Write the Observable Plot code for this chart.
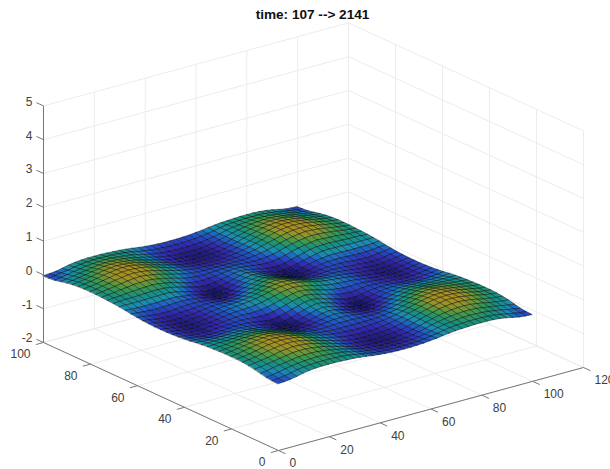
<!DOCTYPE html>
<html><head><meta charset="utf-8">
<script src="https://cdn.jsdelivr.net/npm/d3@7"></script>
<script src="https://cdn.jsdelivr.net/npm/@observablehq/plot@0.6"></script>
<style>html,body{margin:0;padding:0;background:#fff}svg{display:block}</style>
</head><body><div id="c"></div>
<script>
const titleText = "time: 107 --> 2141";
const xTicks = [0,20,40,60,80,100,120];
const yTicks = [0,20,40,60,80,100];
const zTicks = [-2,-1,0,1,2,3,4,5];
const gridStep = 2.5;
// surface height, hundredths, rows y=0.., columns x=0..
const heights = [
[-4,-3,-1,3,7,10,12,13,13,13,12,11,10,8,6,3,1,-1,-2,-3,-3,-3,-2,-1,1,3,6,8,10,11,12,13,13,13,12,10,7,3,-1,-3,-4],
[-3,-1,2,5,9,12,14,15,15,15,14,13,11,8,4,1,-2,-4,-5,-6,-6,-6,-5,-4,-2,1,4,8,11,13,14,15,15,15,14,12,9,5,2,-1,-3],
[-1,2,5,9,12,15,17,18,19,18,16,14,12,8,3,-1,-4,-7,-8,-9,-9,-9,-8,-7,-4,-1,3,8,12,14,16,18,19,18,17,15,12,9,5,2,-1],
[3,5,9,12,15,18,21,22,22,21,19,16,12,8,3,-2,-6,-9,-11,-12,-12,-12,-11,-9,-6,-2,3,8,12,16,19,21,22,22,21,18,15,12,9,5,3],
[7,9,12,15,19,22,25,26,26,24,21,18,13,8,3,-3,-7,-10,-12,-13,-14,-13,-12,-10,-7,-3,3,8,13,18,21,24,26,26,25,22,19,15,12,9,7],
[10,12,15,18,22,26,28,30,29,27,24,19,14,9,3,-2,-7,-10,-12,-13,-14,-13,-12,-10,-7,-2,3,9,14,19,24,27,29,30,28,26,22,18,15,12,10],
[12,14,17,21,25,28,31,32,32,29,25,20,15,9,4,-1,-6,-9,-11,-12,-12,-12,-11,-9,-6,-1,4,9,15,20,25,29,32,32,31,28,25,21,17,14,12],
[13,15,18,22,26,30,32,33,32,30,26,21,15,10,4,0,-4,-7,-9,-10,-10,-10,-9,-7,-4,0,4,10,15,21,26,30,32,33,32,30,26,22,18,15,13],
[13,15,19,22,26,29,32,32,31,28,24,19,14,9,4,0,-3,-5,-6,-7,-7,-7,-6,-5,-3,0,4,9,14,19,24,28,31,32,32,29,26,22,19,15,13],
[13,15,18,21,24,27,29,30,28,25,21,16,11,6,2,-1,-3,-4,-4,-4,-4,-4,-4,-4,-3,-1,2,6,11,16,21,25,28,30,29,27,24,21,18,15,13],
[12,14,16,19,21,24,25,26,24,21,17,12,7,2,-1,-3,-4,-3,-2,-1,-1,-1,-2,-3,-4,-3,-1,2,7,12,17,21,24,26,25,24,21,19,16,14,12],
[11,13,14,16,18,19,20,21,19,16,12,7,2,-3,-6,-7,-6,-4,-1,1,2,1,-1,-4,-6,-7,-6,-3,2,7,12,16,19,21,20,19,18,16,14,13,11],
[10,11,12,12,13,14,15,15,14,11,7,2,-3,-8,-11,-11,-9,-6,-2,2,4,2,-2,-6,-9,-11,-11,-8,-3,2,7,11,14,15,15,14,13,12,12,11,10],
[8,8,8,8,8,9,9,10,9,6,2,-3,-8,-12,-15,-15,-12,-7,-2,3,6,3,-2,-7,-12,-15,-15,-12,-8,-3,2,6,9,10,9,9,8,8,8,8,8],
[6,4,3,3,3,3,4,4,4,1,-1,-6,-11,-15,-17,-16,-12,-6,0,5,8,5,0,-6,-12,-16,-17,-15,-11,-6,-1,1,4,4,4,3,3,3,3,4,6],
[3,1,-1,-2,-3,-2,-1,0,0,-1,-3,-7,-11,-15,-16,-14,-9,-3,3,8,11,8,3,-3,-9,-14,-16,-15,-11,-7,-3,-1,0,0,-1,-2,-3,-2,-1,1,3],
[1,-2,-4,-7,-7,-7,-6,-4,-3,-3,-4,-6,-9,-12,-12,-9,-4,2,7,12,15,12,7,2,-4,-9,-12,-12,-9,-6,-4,-3,-3,-4,-6,-7,-7,-7,-4,-2,1],
[-1,-4,-7,-9,-10,-10,-7,-7,-5,-4,-3,-4,-6,-7,-6,-3,2,7,12,17,20,17,12,7,2,-3,-6,-7,-6,-4,-3,-4,-5,-7,-7,-10,-10,-9,-7,-4,-1],
[-2,-5,-8,-11,-12,-12,-9,-9,-6,-4,-2,-1,-2,-2,0,3,7,12,17,22,24,22,17,12,7,3,0,-2,-2,-1,-2,-4,-6,-9,-9,-12,-12,-11,-8,-5,-2],
[-3,-6,-9,-12,-13,-13,-10,-10,-7,-4,-1,1,2,3,5,8,12,17,22,25,27,25,22,17,12,8,5,3,2,1,-1,-4,-7,-10,-10,-13,-13,-12,-9,-6,-3],
[-3,-6,-9,-12,-14,-14,-12,-10,-7,-4,-1,2,4,6,8,11,15,20,24,27,28,27,24,20,15,11,8,6,4,2,-1,-4,-7,-10,-12,-14,-14,-12,-9,-6,-3],
[-3,-6,-9,-12,-13,-13,-10,-10,-7,-4,-1,1,2,3,5,8,12,17,22,25,27,25,22,17,12,8,5,3,2,1,-1,-4,-7,-10,-10,-13,-13,-12,-9,-6,-3],
[-2,-5,-8,-11,-12,-12,-9,-9,-6,-4,-2,-1,-2,-2,0,3,7,12,17,22,24,22,17,12,7,3,0,-2,-2,-1,-2,-4,-6,-9,-9,-12,-12,-11,-8,-5,-2],
[-1,-4,-7,-9,-10,-10,-7,-7,-5,-4,-3,-4,-6,-7,-6,-3,2,7,12,17,20,17,12,7,2,-3,-6,-7,-6,-4,-3,-4,-5,-7,-7,-10,-10,-9,-7,-4,-1],
[1,-2,-4,-7,-7,-7,-6,-4,-3,-3,-4,-6,-9,-12,-12,-9,-4,2,7,12,15,12,7,2,-4,-9,-12,-12,-9,-6,-4,-3,-3,-4,-6,-7,-7,-7,-4,-2,1],
[3,1,-1,-2,-3,-2,-1,0,0,-1,-3,-7,-11,-15,-16,-14,-9,-3,3,8,11,8,3,-3,-9,-14,-16,-15,-11,-7,-3,-1,0,0,-1,-2,-3,-2,-1,1,3],
[6,4,3,3,3,3,4,4,4,1,-1,-6,-11,-15,-17,-16,-12,-6,0,5,8,5,0,-6,-12,-16,-17,-15,-11,-6,-1,1,4,4,4,3,3,3,3,4,6],
[8,8,8,8,8,9,9,10,9,6,2,-3,-8,-12,-15,-15,-12,-7,-2,3,6,3,-2,-7,-12,-15,-15,-12,-8,-3,2,6,9,10,9,9,8,8,8,8,8],
[10,11,12,12,13,14,15,15,14,11,7,2,-3,-8,-11,-11,-9,-6,-2,2,4,2,-2,-6,-9,-11,-11,-8,-3,2,7,11,14,15,15,14,13,12,12,11,10],
[11,13,14,16,18,19,20,21,19,16,12,7,2,-3,-6,-7,-6,-4,-1,1,2,1,-1,-4,-6,-7,-6,-3,2,7,12,16,19,21,20,19,18,16,14,13,11],
[12,14,16,19,21,24,25,26,24,21,17,12,7,2,-1,-3,-4,-3,-2,-1,-1,-1,-2,-3,-4,-3,-1,2,7,12,17,21,24,26,25,24,21,19,16,14,12],
[13,15,18,21,24,27,29,30,28,25,21,16,11,6,2,-1,-3,-4,-4,-4,-4,-4,-4,-4,-3,-1,2,6,11,16,21,25,28,30,29,27,24,21,18,15,13],
[13,15,19,22,26,29,32,32,31,28,24,19,14,9,4,0,-3,-5,-6,-7,-7,-7,-6,-5,-3,0,4,9,14,19,24,28,31,32,32,29,26,22,19,15,13],
[13,15,18,22,26,30,32,33,32,30,26,21,15,10,4,0,-4,-7,-9,-10,-10,-10,-9,-7,-4,0,4,10,15,21,26,30,32,33,32,30,26,22,18,15,13],
[12,14,17,21,25,28,31,32,32,29,25,20,15,9,4,-1,-6,-9,-11,-12,-12,-12,-11,-9,-6,-1,4,9,15,20,25,29,32,32,31,28,25,21,17,14,12],
[10,12,15,18,22,26,28,30,29,27,24,19,14,9,3,-2,-7,-10,-12,-13,-14,-13,-12,-10,-7,-2,3,9,14,19,24,27,29,30,28,26,22,18,15,12,10],
[7,9,12,15,19,22,25,26,26,24,21,18,13,8,3,-3,-7,-10,-12,-13,-14,-13,-12,-10,-7,-3,3,8,13,18,21,24,26,26,25,22,19,15,12,9,7],
[3,5,9,12,15,18,21,22,22,21,19,16,12,8,3,-2,-6,-9,-11,-12,-12,-12,-11,-9,-6,-2,3,8,12,16,19,21,22,22,21,18,15,12,9,5,3],
[-1,2,5,9,12,15,17,18,19,18,16,14,12,8,3,-1,-4,-7,-8,-9,-9,-9,-8,-7,-4,-1,3,8,12,14,16,18,19,18,17,15,12,9,5,2,-1],
[-3,-1,2,5,9,12,14,15,15,15,14,13,11,8,4,1,-2,-4,-5,-6,-6,-6,-5,-4,-2,1,4,8,11,13,14,15,15,15,14,12,9,5,2,-1,-3],
[-4,-3,-1,3,7,10,12,13,13,13,12,11,10,8,6,3,1,-1,-2,-3,-3,-3,-2,-1,1,3,6,8,10,11,12,13,13,13,12,10,7,3,-1,-3,-4]
];
const surfaceColors = ["#1a1670","#3228b0","#1f55c8","#1a8fb0","#159080","#3f9a4a","#93942a","#b08f1c"];

// axonometric view of the MATLAB box
const view = {ox:278, oy:450, xx:305/120, xy:-83/120, yx:-235/100, yy:-108/100, zy:-33.8, z0:-2};
const px = (x,y) => view.ox + x*view.xx + y*view.yx;
const py = (x,y,z) => view.oy + x*view.xy + y*view.yy + (z-view.z0)*view.zy;
const P = (x,y,z) => ({X:px(x,y), Y:py(x,y,z)});
const seg = (a,b) => { const p=P(...a), q=P(...b); return {X1:p.X,Y1:p.Y,X2:q.X,Y2:q.Y}; };

const xMax=120,yMax=100,zMin=-2,zMax=5;
const grid=[];
for(const z of zTicks){grid.push(seg([0,yMax,z],[xMax,yMax,z]));grid.push(seg([xMax,yMax,z],[xMax,0,z]));}
for(const x of xTicks){grid.push(seg([x,yMax,zMin],[x,yMax,zMax]));grid.push(seg([x,0,zMin],[x,yMax,zMin]));}
for(const y of yTicks){grid.push(seg([xMax,y,zMin],[xMax,y,zMax]));grid.push(seg([0,y,zMin],[xMax,y,zMin]));}

const axes=[seg([0,0,zMin],[xMax,0,zMin]),seg([0,0,zMin],[0,yMax,zMin]),seg([0,yMax,zMin],[0,yMax,zMax])];
const ticks=[];
for(const x of xTicks)ticks.push(seg([x,0,zMin],[x,-3,zMin]));
for(const y of yTicks)ticks.push(seg([0,y,zMin],[-3,y,zMin]));
for(const z of zTicks)ticks.push(seg([0,yMax,z],[0,yMax+3,z]));

const at=(p,dx,dy,t)=>({X:p.X+dx,Y:p.Y+dy,t:String(t)});
const xLabels=xTicks.map(v=>at(P(v,0,zMin),11,13,v));
const yLabels=yTicks.map(v=>at(P(0,v,zMin),-13,12,v));
const zLabels=zTicks.map(v=>at(P(0,yMax,v),-11,-4,v));

// surface cells, far to near
const n=heights.length, cells=[];
const order=[];
for(let j=0;j<n-1;j++)for(let i=0;i<n-1;i++)order.push([i,j]);
order.sort((a,b)=>(b[0]+b[1])-(a[0]+a[1]));
order.forEach(([i,j],c)=>{
  const h=(a,b)=>heights[b][a]/100, g=gridStep;
  const v=(h(i,j)+h(i+1,j)+h(i,j+1)+h(i+1,j+1))/4;
  const p00=P(i*g,j*g,h(i,j)),p10=P((i+1)*g,j*g,h(i+1,j)),p01=P(i*g,(j+1)*g,h(i,j+1)),p11=P((i+1)*g,(j+1)*g,h(i+1,j+1));
  cells.push({c,v,X1:p00.X,Y1:p00.Y,X2:p01.X,Y2:p01.Y});
  cells.push({c,v,X1:p10.X,Y1:p10.Y,X2:p11.X,Y2:p11.Y});
});

const chart=Plot.plot({
  width:610,height:469,margin:0,
  x:{domain:[0,610],range:[0,610],axis:null},
  y:{domain:[0,469],range:[0,469],axis:null},
  color:{type:"linear",domain:[-0.15,0.34],interpolate:d3.piecewise(d3.interpolateRgb,surfaceColors)},
  style:{fontFamily:"'Liberation Sans',Arial,sans-serif",background:"#fff"},
  marks:[
    Plot.link(grid,{x1:"X1",y1:"Y1",x2:"X2",y2:"Y2",stroke:"#ececec",strokeWidth:1}),
    Plot.area(cells,{x1:"X1",y1:"Y1",x2:"X2",y2:"Y2",z:"c",fill:"v",stroke:"#000",strokeWidth:0.7,strokeOpacity:0.6,curve:"linear"}),
    Plot.link(axes,{x1:"X1",y1:"Y1",x2:"X2",y2:"Y2",stroke:"#777",strokeWidth:1}),
    Plot.link(ticks,{x1:"X1",y1:"Y1",x2:"X2",y2:"Y2",stroke:"#777",strokeWidth:1}),
    Plot.text(xLabels,{x:"X",y:"Y",text:"t",textAnchor:"start",fill:"#404040",fontSize:12}),
    Plot.text(yLabels,{x:"X",y:"Y",text:"t",textAnchor:"end",fill:"#404040",fontSize:12}),
    Plot.text(zLabels,{x:"X",y:"Y",text:"t",textAnchor:"end",fill:"#404040",fontSize:12}),
    Plot.text([titleText],{x:()=>312,y:()=>14,fontWeight:"bold",fontSize:13.6,fill:"#111"})
  ]
});
document.getElementById("c").append(chart);
</script></body></html>
